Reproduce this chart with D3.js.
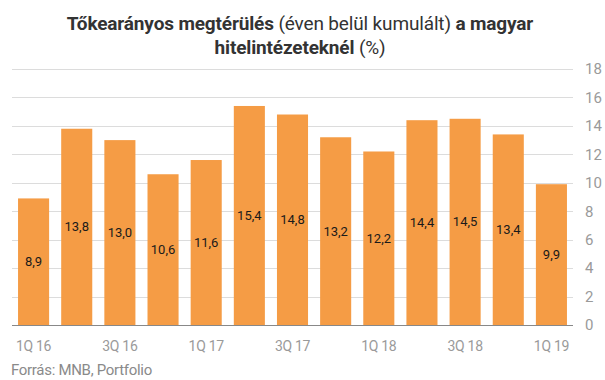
<!DOCTYPE html>
<html>
<head>
<meta charset="utf-8">
<script src="https://cdn.jsdelivr.net/npm/d3@7"></script>
<style>
  body { margin: 0; background: #fff; }
  svg { display: block; font-family: Roboto, sans-serif; }
</style>
</head>
<body>
<div id="chart"></div>
<script>
const quarters = ["1Q 16", "2Q 16", "3Q 16", "4Q 16", "1Q 17", "2Q 17", "3Q 17",
                  "4Q 17", "1Q 18", "2Q 18", "3Q 18", "4Q 18", "1Q 19"];
const roe = [8.9, 13.8, 13.0, 10.6, 11.6, 15.4, 14.8, 13.2, 12.2, 14.4, 14.5, 13.4, 9.9];
const yTicks = [0, 2, 4, 6, 8, 10, 12, 14, 16, 18];
const xLabels = ["1Q 16", "3Q 16", "1Q 17", "3Q 17", "1Q 18", "3Q 18", "1Q 19"];

const data = quarters.map((q, i) => ({ q: q, v: roe[i] }));

const width = 605, height = 380;
const plotLeft = 12, plotRight = 573, plotTop = 69, plotBottom = 325;

const svg = d3.select("#chart").append("svg")
    .attr("width", width)
    .attr("height", height);

// scales
const x = d3.scaleBand()
    .domain(quarters)
    .range([plotLeft, plotRight])
    .paddingInner(0.28)
    .paddingOuter(0.14);

const y = d3.scaleLinear()
    .domain([0, 18])
    .range([plotBottom, plotTop]);

// gridlines
svg.append("g")
    .selectAll("line")
    .data(yTicks.filter(d => d > 0))
    .join("line")
    .attr("x1", plotLeft)
    .attr("x2", plotRight)
    .attr("y1", d => Math.round(y(d)) + 0.5)
    .attr("y2", d => Math.round(y(d)) + 0.5)
    .attr("stroke", "#dcdcdc")
    .attr("stroke-width", 1);

// bars
svg.append("g")
    .selectAll("rect")
    .data(data)
    .join("rect")
    .attr("x", d => x(d.q))
    .attr("y", d => y(d.v))
    .attr("width", x.bandwidth())
    .attr("height", d => y(0) - y(d.v))
    .attr("fill", "#f59c45");

// value labels
svg.append("g")
    .selectAll("text")
    .data(data)
    .join("text")
    .attr("x", d => x(d.q) + x.bandwidth() / 2)
    .attr("y", d => (y(d.v) + y(0)) / 2)
    .attr("dy", "0.35em")
    .attr("text-anchor", "middle")
    .style("font-size", "13px")
    .style("fill", "#1a1a1a")
    .text(d => d3.format(".1f")(d.v).replace(".", ","));

// baseline
svg.append("line")
    .attr("x1", plotLeft)
    .attr("x2", plotRight)
    .attr("y1", plotBottom + 0.5)
    .attr("y2", plotBottom + 0.5)
    .attr("stroke", "#888")
    .attr("stroke-width", 1);

// y axis (right)
const yAxis = svg.append("g")
    .attr("transform", `translate(${plotRight},0)`)
    .call(d3.axisRight(y).tickValues(yTicks).tickSize(0).tickPadding(12));
yAxis.select(".domain").remove();
yAxis.selectAll("text")
    .style("font-size", "15px")
    .style("font-family", "Roboto, sans-serif")
    .style("fill", "#9a9a9a");

// x axis
const xAxis = svg.append("g")
    .attr("transform", `translate(0,${plotBottom})`)
    .call(d3.axisBottom(x).tickValues(xLabels).tickSize(0).tickPadding(16));
xAxis.select(".domain").remove();
xAxis.selectAll("text")
    .style("font-size", "14px")
    .style("font-family", "Roboto, sans-serif")
    .style("letter-spacing", "-0.3px")
    .style("fill", "#9a9a9a");

// title
const title = svg.append("text")
    .attr("text-anchor", "middle")
    .style("font-size", "19px")
    .style("fill", "#333")
    .style("letter-spacing", "-0.15px");

const line1 = title.append("tspan").attr("x", 300).attr("y", 30);
line1.append("tspan").style("font-weight", "bold").text("Tőkearányos megtérülés ");
line1.append("tspan").text("(éven belül kumulált) ");
line1.append("tspan").style("font-weight", "bold").text("a magyar");

const line2 = title.append("tspan").attr("x", 300).attr("y", 54);
line2.append("tspan").style("font-weight", "bold").text("hitelintézeteknél ");
line2.append("tspan").text("(%)");

// source
svg.append("text")
    .attr("x", 11)
    .attr("y", 375)
    .style("font-size", "15px")
    .style("letter-spacing", "-0.3px")
    .style("fill", "#8a8a8a")
    .text("Forrás: MNB, Portfolio");
</script>
</body>
</html>
